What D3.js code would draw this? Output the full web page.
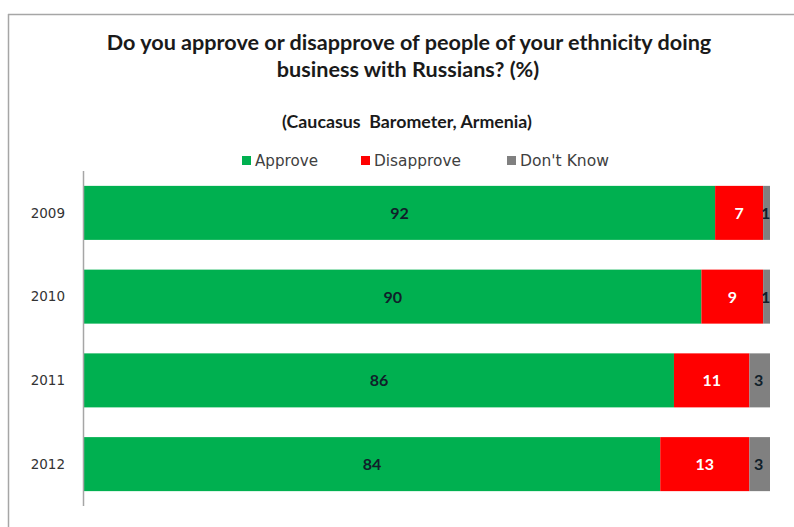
<!DOCTYPE html>
<html><head><meta charset="utf-8">
<script src="https://cdn.jsdelivr.net/npm/d3@7"></script>
<style>body{margin:0;background:#fff;}svg{display:block;}</style>
</head><body>
<svg id="c" width="794" height="527"></svg>
<script>
const years = ["2009","2010","2011","2012"];
const seriesNames = ["Approve","Disapprove","Don't Know"];
const approve = [92,90,86,84];
const disapprove = [7,9,11,13];
const dontKnow = [1,1,3,3];
const colors = ["#00B050","#FF0000","#808080"];
const labelColors = ["#10202a","#ffffff","#10202a"];

const svg = d3.select("#c");
const titleFont = "Lato, 'Open Sans', sans-serif";
const bodyFont = "'DejaVu Sans', Verdana, sans-serif";

function fit(sel, target, start){
  let fs = start;
  sel.attr("font-size", fs);
  const w = sel.node().getComputedTextLength();
  fs = fs * target / w;
  sel.attr("font-size", fs);
  return fs;
}

// frame
svg.append("line").attr("x1",8).attr("x2",794).attr("y1",14.5).attr("y2",14.5).attr("stroke","#a6a6a6").attr("stroke-width",1.5);
svg.append("line").attr("x1",8.5).attr("x2",8.5).attr("y1",14).attr("y2",527).attr("stroke","#a6a6a6").attr("stroke-width",1.5);

// titles
const t1 = svg.append("text").attr("x",409).attr("y",50).attr("text-anchor","middle").attr("font-family",titleFont).attr("font-weight","bold").attr("fill","#1a1a1a").text("Do you approve or disapprove of people of your ethnicity doing");
const tfs = fit(t1, 605, 19);
svg.append("text").attr("x",408).attr("y",77).attr("text-anchor","middle").attr("font-family",titleFont).attr("font-weight","bold").attr("font-size",tfs).attr("fill","#1a1a1a").text("business with Russians? (%)");
const st = svg.append("text").attr("x",407).attr("y",128).attr("text-anchor","middle").attr("font-family",titleFont).attr("font-weight","bold").attr("fill","#1a1a1a").attr("xml:space","preserve").text("(Caucasus  Barometer, Armenia)");
fit(st, 250, 14);

// legend
const legendX = [242,361,507];
const legendW = [63,87,89];
seriesNames.forEach((n,i)=>{
  svg.append("rect").attr("x",legendX[i]).attr("y",156).attr("width",9).attr("height",9).attr("fill",colors[i]);
  const lt = svg.append("text").attr("x",legendX[i]+13).attr("y",166).attr("font-family",bodyFont).attr("fill","#404040").text(n);
  fit(lt, legendW[i], 13.5);
});

const x = d3.scaleLinear().domain([0,100]).range([84,770]);
const y = d3.scaleBand().domain(years).range([171,506]).paddingInner(0.355).paddingOuter(0.1775);

const data = years.map((yr,i)=>({year:yr, Approve:approve[i], Disapprove:disapprove[i], "Don't Know":dontKnow[i]}));
const stacked = d3.stack().keys(seriesNames)(data);

stacked.forEach((s,si)=>{
  const g = svg.append("g");
  g.selectAll("rect").data(s).join("rect")
    .attr("x",d=>x(d[0])).attr("y",d=>y(d.data.year))
    .attr("width",d=>x(d[1])-x(d[0])).attr("height",y.bandwidth())
    .attr("fill",colors[si]);
  g.selectAll("text").data(s).join("text")
    .attr("x",d=>(x(d[0])+x(d[1]))/2 + (si===2?-1:0))
    .attr("y",d=>y(d.data.year)+y.bandwidth()/2+6)
    .attr("text-anchor","middle").attr("font-family",titleFont).attr("font-weight","bold")
    .attr("font-size",16).attr("fill",labelColors[si])
    .text(d=>d.data[seriesNames[si]]);
});

// axis
const yAxis = d3.axisLeft(y).tickSize(0).tickPadding(18.5);
const ag = svg.append("g").attr("transform","translate(83.5,0)").call(yAxis);
ag.select(".domain").attr("stroke","#a6a6a6").attr("stroke-width",1.5).attr("d","M0,171V506");
ag.selectAll("text").attr("font-family",bodyFont).attr("font-size",13.5).attr("fill","#333").attr("dy","0.35em");
</script>
</body></html>
